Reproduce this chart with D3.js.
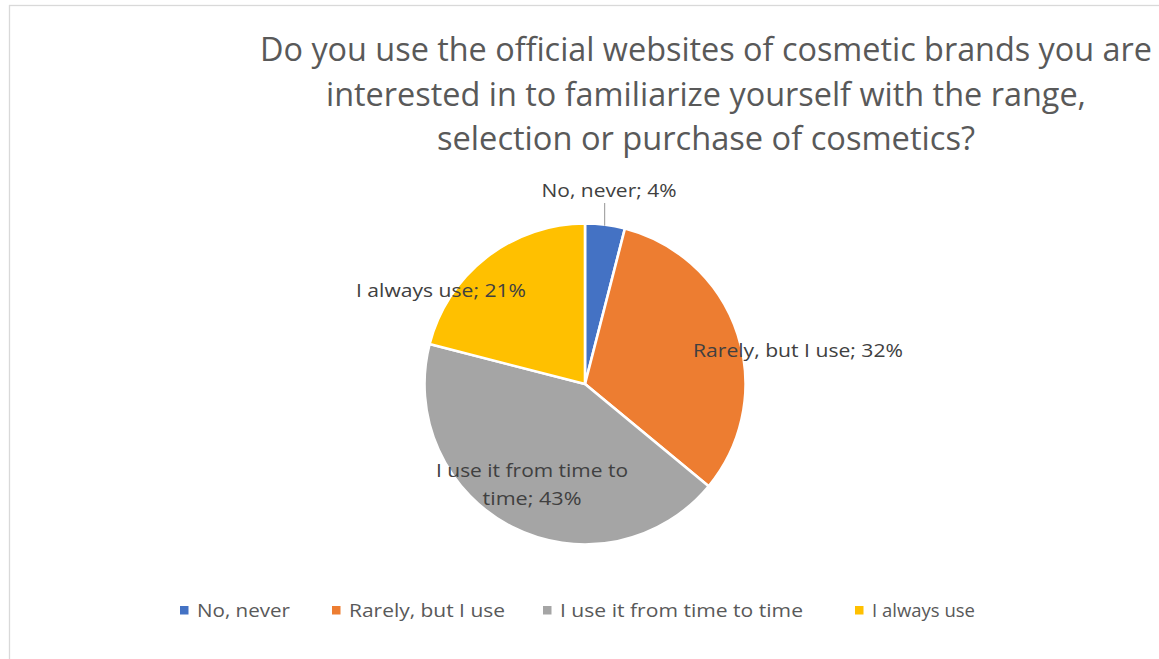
<!DOCTYPE html>
<html>
<head>
<meta charset="utf-8">
<script src="https://cdn.jsdelivr.net/npm/d3@7"></script>
<style>
  html, body { margin: 0; padding: 0; background: #fff; }
  svg { display: block; }
  text { font-family: "Open Sans", "Noto Sans", sans-serif; }
</style>
</head>
<body>
<svg id="chart" width="1159" height="659"></svg>
<script>
// Survey answers and their shares (%)
const categories = ["No, never", "Rarely, but I use", "I use it from time to time", "I always use"];
const values = [4, 32, 43, 21];
const colors = ["#4472C4", "#ED7D31", "#A5A5A5", "#FFC000"];
const titleLines = [
  "Do you use the official websites of cosmetic brands you are",
  "interested in to familiarize yourself with the range,",
  "selection or purchase of cosmetics?"
];

const W = 1159, H = 659;
const svg = d3.select("#chart");

// chart frame
svg.append("rect")
  .attr("x", 9.5).attr("y", 5.5)
  .attr("width", W + 20).attr("height", H + 20)
  .attr("fill", "#fff").attr("stroke", "#d9d9d9").attr("stroke-width", 1.3);

// title
const titleWidths = [892, 760, 538];
const titleBase = [61, 106, 150];
svg.append("g").selectAll("text").data(titleLines).join("text")
  .attr("x", 706)
  .attr("y", (d, i) => titleBase[i])
  .attr("text-anchor", "middle")
  .attr("font-size", 33)
  .attr("fill", "#595959")
  .attr("textLength", (d, i) => titleWidths[i])
  .attr("lengthAdjust", "spacingAndGlyphs")
  .text(d => d);

// pie
const cx = 585, cy = 384, R = 160.5;
const pie = d3.pie().sort(null).startAngle(0).endAngle(2 * Math.PI);
const arcs = pie(values);
const arc = d3.arc().innerRadius(0).outerRadius(R);
const g = svg.append("g").attr("transform", `translate(${cx},${cy})`);
g.selectAll("path").data(arcs).join("path")
  .attr("d", arc)
  .attr("fill", (d, i) => colors[i])
  .attr("stroke", "#fff")
  .attr("stroke-width", 2.6)
  .attr("stroke-linejoin", "round");

// data labels: "category; value%" placed around the pie
const labelPos = [
  { dx: 24, dy: -187, w: [135] },
  { dx: 213, dy: -27, w: [210] },
  { dx: -53, dy: 93, w: [192, 99], split: true },
  { dx: -144, dy: -87, w: [170] }
];
arcs.forEach((a, i) => {
  const p = labelPos[i];
  const full = `${categories[i]}; ${values[i]}%`;
  let lines = [full];
  if (p.split) {
    lines = ["I use it from time to", `time; ${values[i]}%`];
  }
  const t = g.append("g");
  lines.forEach((ln, j) => {
    t.append("text")
      .attr("x", p.dx)
      .attr("y", p.dy + j * 28)
      .attr("text-anchor", "middle")
      .attr("font-size", 18.3)
      .attr("fill", "#404040")
      .attr("textLength", p.w[j])
      .attr("lengthAdjust", "spacingAndGlyphs")
      .text(ln);
  });
});

// leader line for the smallest slice
const small = arcs[0];
const midA = (small.startAngle + small.endAngle) / 2;
const edge = [Math.sin(midA) * R, -Math.cos(midA) * R];
g.append("line")
  .attr("x1", edge[0] - 0.5).attr("y1", -181)
  .attr("x2", edge[0] - 0.5).attr("y2", edge[1] + 1)
  .attr("stroke", "#a6a6a6").attr("stroke-width", 1.2);

// legend
const legendX = [180, 332, 543, 855];
const legendW = [93, 156, 243, 103];
const lg = svg.append("g");
categories.forEach((c, i) => {
  lg.append("rect")
    .attr("x", legendX[i]).attr("y", 606)
    .attr("width", 8.5).attr("height", 8.5)
    .attr("fill", colors[i]);
  lg.append("text")
    .attr("x", legendX[i] + 17)
    .attr("y", 617)
    .attr("font-size", 18.3)
    .attr("fill", "#595959")
    .attr("textLength", legendW[i])
    .attr("lengthAdjust", "spacingAndGlyphs")
    .text(c);
});
</script>
</body>
</html>
